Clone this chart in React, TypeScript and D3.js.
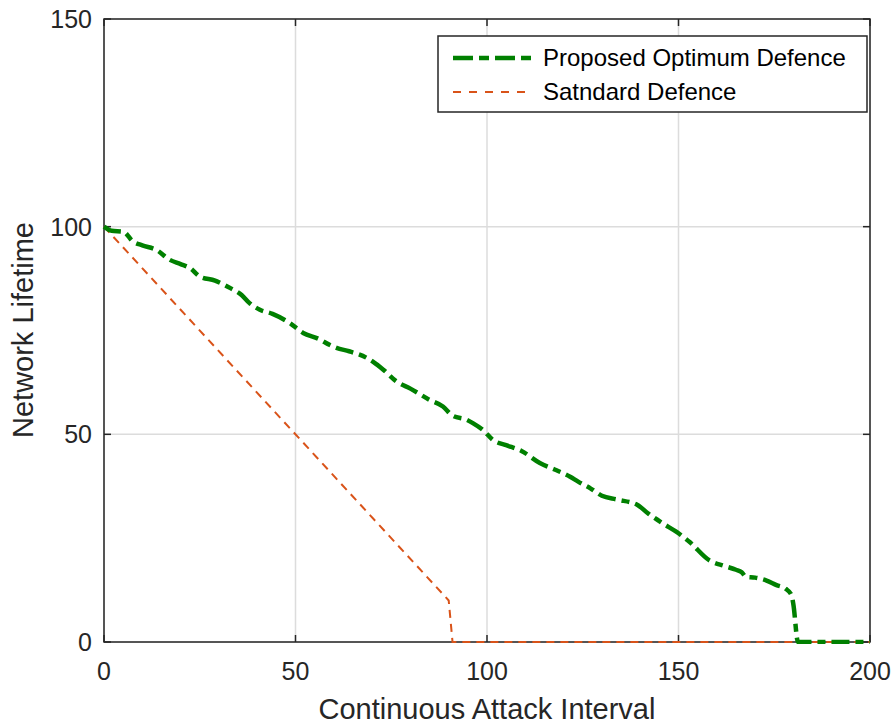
import React, { useEffect, useRef } from "react";
import * as d3 from "d3";

const xTicks = [0, 50, 100, 150, 200];
const yTicks = [0, 50, 100, 150];

const proposedX = [0, 2, 5, 7.6, 10, 13.7, 17.2, 20, 22.5, 25, 29, 33, 36, 38, 40.7, 44, 48.5, 52, 56, 59, 60.7, 64, 68.6, 70.2, 73, 76.4, 80, 85, 88.5, 91, 94.7, 96.3, 99, 101.6, 105, 109, 113.8, 118, 121.7, 123.8, 127, 130, 134, 139.3, 142, 146, 149.5, 153, 158, 162, 165, 166.5, 167.6, 170, 173, 175.6, 178, 179.5, 180, 181.2, 185, 190, 195, 200];
const proposedY = [100, 99, 98.8, 96.4, 95.5, 94.4, 92, 91, 90, 88, 87, 85.2, 83.5, 81.6, 80, 79, 76.8, 74.4, 73, 71.5, 70.8, 70, 68.4, 67.5, 65.5, 62.7, 61, 58.3, 56.7, 54.5, 53.5, 52.7, 51, 48.6, 47.4, 46, 43.1, 41.4, 39.8, 38.6, 37, 35.2, 34.3, 33, 31, 28.5, 26.5, 24, 19.7, 18.3, 17.4, 16.8, 15.7, 15.5, 14.8, 13.7, 12.8, 11.3, 9, 0, 0, 0, 0, 0];

const standardX = [0, 89, 90, 91, 100, 150, 200];
const standardY = [100, 11, 10, 0, 0, 0, 0];

const legendLabels = ["Proposed Optimum Defence", "Satndard Defence"];

const W = 894;
const H = 724;
const margin = { left: 104, top: 19, right: 24, bottom: 82 };
const FONT = "'Liberation Sans', Arial, Helvetica, sans-serif";

export default function App() {
  const ref = useRef<SVGSVGElement | null>(null);

  useEffect(() => {
    const svg = d3.select(ref.current);
    svg.selectAll("*").remove();
    const x0 = margin.left, x1 = W - margin.right;
    const y0 = H - margin.bottom, y1 = margin.top;
    const x = d3.scaleLinear().domain([0, 200]).range([x0, x1]);
    const y = d3.scaleLinear().domain([0, 150]).range([y0, y1]);

    svg.append("rect").attr("width", W).attr("height", H).attr("fill", "#fff");

    // grid
    const g = svg.append("g");
    xTicks.forEach((t) => {
      g.append("line").attr("x1", x(t)).attr("x2", x(t)).attr("y1", y0).attr("y2", y1)
        .attr("stroke", "#dcdcdc").attr("stroke-width", 1.5);
    });
    yTicks.forEach((t) => {
      g.append("line").attr("x1", x0).attr("x2", x1).attr("y1", y(t)).attr("y2", y(t))
        .attr("stroke", "#dcdcdc").attr("stroke-width", 1.5);
    });

    const clip = svg.append("defs").append("clipPath").attr("id", "clip");
    clip.append("rect").attr("x", x0 - 2).attr("y", y1 - 2).attr("width", x1 - x0 + 4).attr("height", y0 - y1 + 4);

    const line = d3.line<[number, number]>().x((d) => x(d[0])).y((d) => y(d[1]));

    // axes box
    const ax = svg.append("g");
    ax.append("rect").attr("x", x0).attr("y", y1).attr("width", x1 - x0).attr("height", y0 - y1)
      .attr("fill", "none").attr("stroke", "#262626").attr("stroke-width", 1.5);
    const tl = 7;
    xTicks.forEach((t) => {
      ax.append("line").attr("x1", x(t)).attr("x2", x(t)).attr("y1", y0).attr("y2", y0 - tl).attr("stroke", "#262626").attr("stroke-width", 1.5);
      ax.append("line").attr("x1", x(t)).attr("x2", x(t)).attr("y1", y1).attr("y2", y1 + tl).attr("stroke", "#262626").attr("stroke-width", 1.5);
      ax.append("text").attr("x", x(t)).attr("y", y0 + 38).attr("text-anchor", "middle")
        .attr("font-family", FONT).attr("font-size", 25).attr("fill", "#262626").text(String(t));
    });
    yTicks.forEach((t) => {
      ax.append("line").attr("x1", x0).attr("x2", x0 + tl).attr("y1", y(t)).attr("y2", y(t)).attr("stroke", "#262626").attr("stroke-width", 1.5);
      ax.append("line").attr("x1", x1).attr("x2", x1 - tl).attr("y1", y(t)).attr("y2", y(t)).attr("stroke", "#262626").attr("stroke-width", 1.5);
      ax.append("text").attr("x", x0 - 12).attr("y", y(t)).attr("dy", "0.36em").attr("text-anchor", "end")
        .attr("font-family", FONT).attr("font-size", 25).attr("fill", "#262626").text(String(t));
    });
    ax.append("text").attr("x", 487).attr("y", 719).attr("text-anchor", "middle")
      .attr("font-family", FONT).attr("font-size", 29).attr("fill", "#262626").text("Continuous Attack Interval");
    ax.append("text").attr("transform", `translate(33,${330}) rotate(-90)`).attr("text-anchor", "middle")
      .attr("font-family", FONT).attr("font-size", 29).attr("fill", "#262626").text("Network Lifetime");

    const pData = proposedX.map((v, i) => [v, proposedY[i]] as [number, number]);
    const sData = standardX.map((v, i) => [v, standardY[i]] as [number, number]);

    const lines = svg.append("g").attr("clip-path", "url(#clip)");
    lines.append("path").attr("d", line(sData)).attr("fill", "none").attr("stroke", "#D95319")
      .attr("stroke-width", 2).attr("stroke-dasharray", "8,6");
    lines.append("path").attr("d", line.curve(d3.curveMonotoneX)(pData)).attr("fill", "none").attr("stroke", "#008000")
      .attr("stroke-width", 4.5).attr("stroke-dasharray", "18,6,8,6").attr("stroke-linejoin", "round");

    // legend
    const lg = svg.append("g");
    const lx = 438, ly = 36, lw = 429, lh = 76;
    lg.append("rect").attr("x", lx).attr("y", ly).attr("width", lw).attr("height", lh)
      .attr("fill", "#fff").attr("stroke", "#262626").attr("stroke-width", 1.5);
    const rows = [
      { c: "#008000", w: 4.5, dash: "20,6,10,6", label: legendLabels[0], yy: ly + 22 },
      { c: "#D95319", w: 2, dash: "8,8", label: legendLabels[1], yy: ly + 56 },
    ];
    rows.forEach((r) => {
      lg.append("line").attr("x1", lx + 15).attr("x2", lx + 93).attr("y1", r.yy).attr("y2", r.yy)
        .attr("stroke", r.c).attr("stroke-width", r.w).attr("stroke-dasharray", r.dash);
      lg.append("text").attr("x", lx + 105).attr("y", r.yy).attr("dy", "0.35em")
        .attr("font-family", FONT).attr("font-size", 24).attr("fill", "#000").text(r.label);
    });
  }, []);

  return (
    <div style={{ position: "absolute", left: 0, top: 0 }}>
      <svg ref={ref} width={W} height={H} style={{ display: "block" }} />
    </div>
  );
}
